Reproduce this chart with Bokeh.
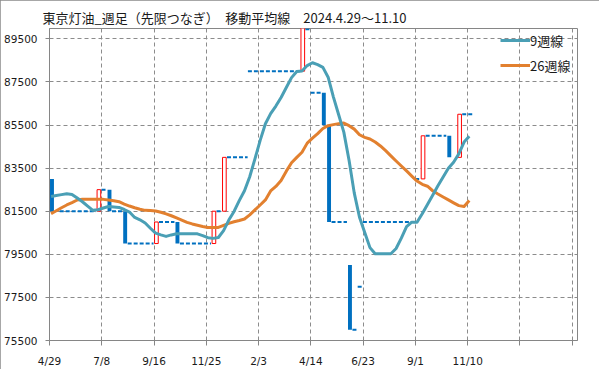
from bokeh.plotting import figure
from bokeh.models import (ColumnDataSource, FixedTicker, Legend, LegendItem, Range1d)
from bokeh.embed import file_html
from bokeh.resources import INLINE

# ---------------- data ----------------
title_text = "東京灯油_週足（先限つなぎ）　移動平均線　2024.4.29～11.10"

tick_weeks = [0, 10, 20, 30, 40, 50, 60, 70, 80, 90, 100]
tick_labels = ["4/29", "7/8", "9/16", "11/25", "2/3", "4/14", "6/23", "9/1", "11/10", "", ""]
y_ticks = [75500, 77500, 79500, 81500, 83500, 85500, 87500, 89500]

# weekly boxes (week index, open, close)
box_week = [0, 9, 11, 14, 20, 24, 31, 33, 48, 52, 53, 57, 71, 76, 78]
box_open = [83000, 81500, 82500, 81500, 80000, 81000, 80000, 81500, 88000, 87000, 85500, 79000, 83000, 85000, 84000]
box_close = [81500, 82500, 81500, 80000, 81000, 80000, 81500, 84000, 90000, 85500, 81000, 76000, 85000, 84000, 86000]

# dashed level runs (first week, last week, level)
run_first = [2, 10, 12, 15, 21, 25, 32, 34, 38, 49, 50, 54, 58, 59, 60, 70, 72, 79]
run_last = [8, 10, 13, 19, 23, 30, 32, 37, 47, 49, 51, 56, 58, 59, 69, 70, 75, 80]
run_level = [81500, 82500, 81500, 80000, 81000, 80000, 81500, 84000, 88000, 89950, 87000, 81000, 76000, 78000, 81000, 83000, 85000, 86000]

# moving averages, weeks 0..80
ma9 = [
    82180, 82225, 82270, 82310, 82280, 82110, 81940, 81740, 81540, 81570,
    81650, 81720, 81700, 81675, 81580, 81460, 81210, 81100, 80955, 80710,
    80480, 80400, 80330, 80400, 80450, 80450, 80450, 80450, 80450, 80370,
    80270, 80240, 80280, 80600, 81090, 81490, 81990, 82450, 83100, 83930,
    84790, 85560, 86030, 86380, 86780, 87240, 87700, 87985, 88010, 88260,
    88390, 88300, 88175, 87720, 86810, 85990, 85170, 83870, 82340, 81220,
    80510, 79810, 79525, 79525, 79525, 79525, 79770, 80250, 80780, 80990,
    80990, 81380, 81810, 82240, 82680, 83085, 83490, 83770, 84160, 84710,
    84980,
]
ma26 = [
    81380, 81520, 81660, 81790, 81900, 82020, 82060, 82060, 82060, 82060,
    82050, 82020, 81990, 81940, 81830, 81740, 81660, 81590, 81540, 81530,
    81510, 81450, 81375, 81290, 81190, 81090, 80985, 80910, 80850, 80790,
    80740, 80740, 80750, 80840, 80935, 81010, 81070, 81140, 81330, 81560,
    81790, 82025, 82440, 82650, 82930, 83360, 83750, 84000, 84236, 84660,
    84890, 85100, 85340, 85470, 85520, 85565, 85590, 85470, 85310, 85050,
    84930, 84850, 84710, 84530, 84310, 84070, 83830, 83600, 83370, 83130,
    82900, 82750, 82660, 82450, 82300, 82160, 82025, 81890, 81760, 81717,
    82000,
]

# ---------------- styles ----------------
BLUE = "#0070C0"
RED = "#FF0000"
TEAL = "#4A9FB5"
ORANGE = "#E2802F"
GRID = "#8C8C8C"
FRAME = "#868686"
TXT = "#1A1A1A"
CJK = "Noto Sans CJK JP"
NUM = "DejaVu Sans"

p = figure(width=599, height=369, output_backend="svg", toolbar_location=None,
           x_range=Range1d(0, 101), y_range=Range1d(75500, 89980),
           min_border_left=49, min_border_right=22, min_border_top=28, min_border_bottom=27)
p.styles = {"outline": "1px solid #8A8A8A", "outline-offset": "-1px"}

p.title.text = title_text
p.title.text_font = CJK
p.title.text_font_size = "13px"
p.title.text_font_style = "normal"
p.title.text_color = TXT
p.title.align = "left"
p.title.offset = -7
p.title.standoff = 4

p.outline_line_color = FRAME
p.outline_line_width = 1
p.background_fill_color = "white"
p.border_fill_color = "white"

# axes
p.xaxis.ticker = FixedTicker(ticks=tick_weeks)
p.xaxis.major_label_overrides = {w: l for w, l in zip(tick_weeks, tick_labels)}
p.yaxis.ticker = FixedTicker(ticks=y_ticks)
p.yaxis.major_label_overrides = {v: str(v) for v in y_ticks}
for ax in (p.xaxis[0], p.yaxis[0]):
    ax.axis_line_color = FRAME
    ax.major_tick_line_color = FRAME
    ax.minor_tick_line_color = None
    ax.major_tick_in = 0
    ax.major_tick_out = 5
    ax.major_label_text_font = NUM
    ax.major_label_text_font_size = "10.5px"
    ax.major_label_text_color = TXT
p.yaxis.major_tick_out = 4
p.yaxis.major_label_standoff = 8
p.xaxis.major_label_standoff = 9

p.xgrid.ticker = FixedTicker(ticks=tick_weeks[1:])
p.ygrid.ticker = FixedTicker(ticks=y_ticks[1:])
for g in (p.xgrid[0], p.ygrid[0]):
    g.grid_line_color = GRID
    g.grid_line_dash = "4 3"
    g.grid_line_width = 1

# dashed level runs
seg = ColumnDataSource(dict(
    x0=[f - 0.05 for f in run_first],
    x1=[l + 0.9 for l in run_last],
    y=run_level,
))
p.segment(x0="x0", x1="x1", y0="y", y1="y", source=seg,
          line_color=BLUE, line_width=2, line_dash="4 2")

# boxes
up = [i for i in range(len(box_week)) if box_close[i] > box_open[i]]
dn = [i for i in range(len(box_week)) if box_close[i] <= box_open[i]]
src_up = ColumnDataSource(dict(
    left=[box_week[i] + 0.1 for i in up], right=[box_week[i] + 0.8 for i in up],
    top=[box_close[i] for i in up], bottom=[box_open[i] for i in up]))
src_dn = ColumnDataSource(dict(
    left=[box_week[i] + 0.1 for i in dn], right=[box_week[i] + 0.85 for i in dn],
    top=[box_open[i] for i in dn], bottom=[box_close[i] for i in dn]))
p.quad(left="left", right="right", top="top", bottom="bottom", source=src_up,
       fill_color="white", line_color=RED, line_width=1)
p.quad(left="left", right="right", top="top", bottom="bottom", source=src_dn,
       fill_color=BLUE, line_color=None)

# moving averages
wk = [i + 0.3 for i in range(len(ma9))]
r26 = p.line(wk, ma26, line_color=ORANGE, line_width=3, line_join="round")
r9 = p.line(wk, ma9, line_color=TEAL, line_width=3, line_join="round")

legend = Legend(items=[LegendItem(label="9週線", renderers=[r9]),
                       LegendItem(label="26週線", renderers=[r26])],
                location=(451, 265))
legend.border_line_color = None
legend.background_fill_alpha = 0
legend.padding = 0
legend.margin = 0
legend.spacing = 5
legend.glyph_width = 30
legend.glyph_height = 20
legend.label_height = 20
legend.label_standoff = 0
legend.label_text_font = CJK
legend.label_text_font_size = "13px"
legend.label_text_color = TXT
p.add_layout(legend)

open("out.html", "w").write(file_html(p, INLINE))
